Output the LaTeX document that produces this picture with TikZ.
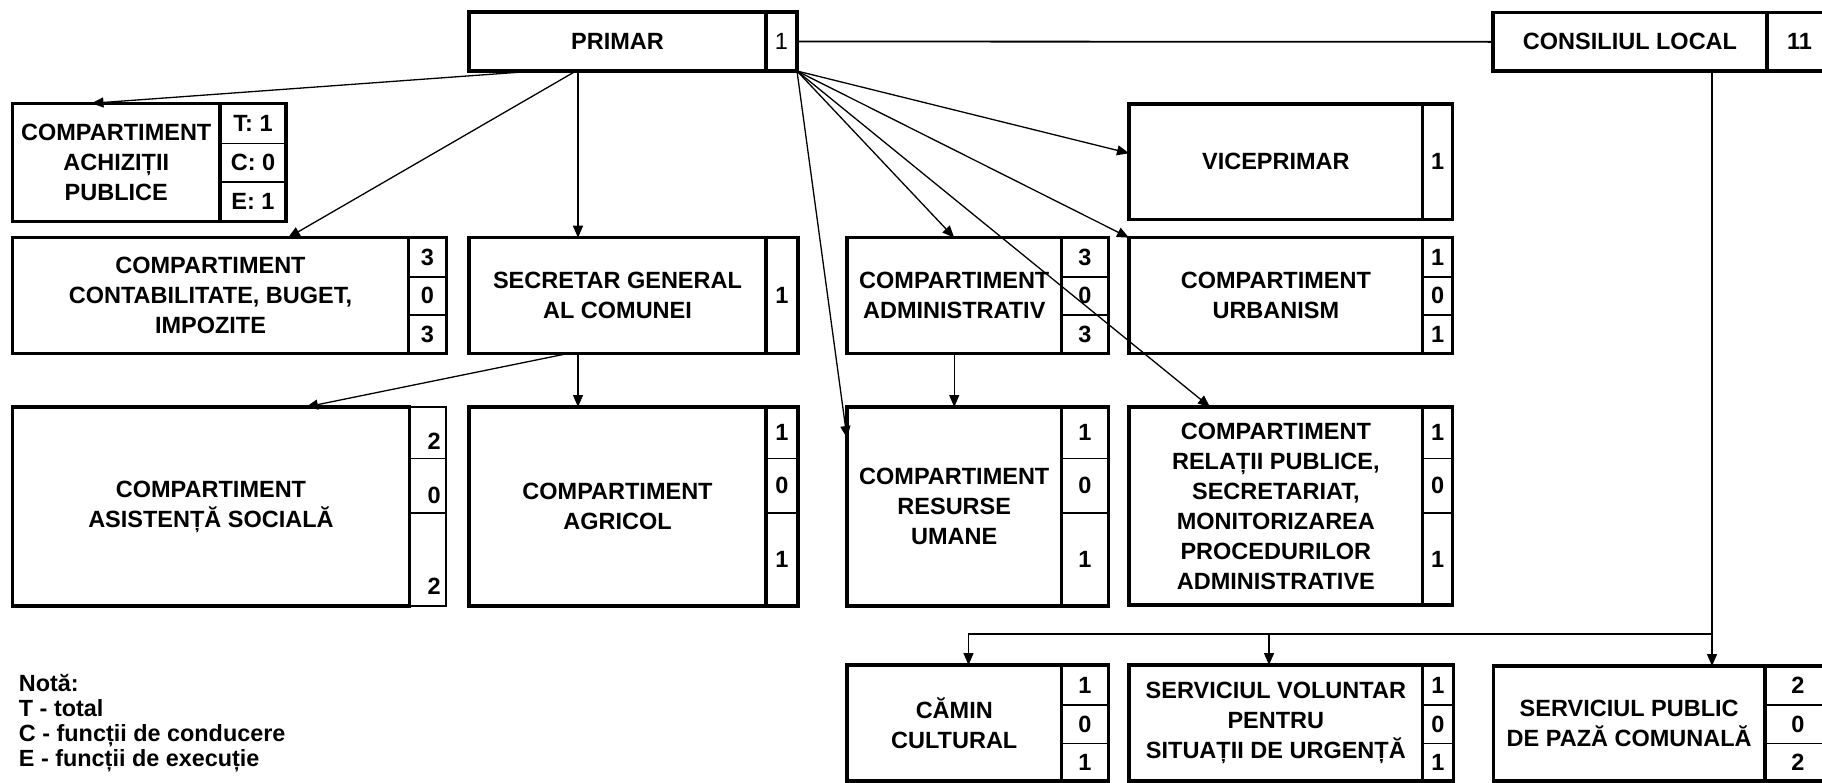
\documentclass[tikz,border=0pt]{standalone}
\usepackage{fontspec}
\setmainfont{Liberation Sans}
\usetikzlibrary{arrows.meta}

\newcommand\boxfont{\fontsize{23.5}{30}\selectfont\bfseries}
\newcommand\plainfont{\fontsize{23.5}{30}\selectfont}
\newcommand\notefont{\fontsize{23.4}{25}\selectfont\bfseries}

\begin{document}
\begin{tikzpicture}[x=1pt, y=-1pt,
    box/.style={draw, line width=3.3pt, inner sep=0pt, outer sep=0pt, align=center, font=\boxfont},
    numcol/.style={draw, line width=3.3pt, inner sep=0pt, outer sep=0pt, font=\boxfont},
    num/.style={inner sep=0pt, font=\boxfont},
    divider/.style={line width=1.6pt},
    link/.style={line width=1.3pt, -{Triangle[length=12pt,width=10pt]}}]

        \useasboundingbox (0,0) rectangle (1822,782);

        % top row
        \node[box, minimum width=297pt, minimum height=59pt] (primar) at (617.5,41.5) {PRIMAR};
        \node[numcol, font=\plainfont, minimum width=31pt, minimum height=59pt] (primar-n) at (781.5,41.5) {1};
        \node[box, minimum width=274pt, minimum height=58.3pt] (consiliul) at (1630,41.85) {CONSILIUL LOCAL};
        \node[numcol, minimum width=65pt, minimum height=58.3pt] (consiliul-n) at (1799.5,41.85) {11};

        % achizitii
        \node[box, minimum width=207.5pt, minimum height=118.4pt] (achiz) at (116.25,162.5) {COMPARTIMENT\\ACHIZIȚII\\PUBLICE};
        \node[numcol, minimum width=66pt, minimum height=118.4pt] (achiz-n) at (253,162.5) {};
        \draw[divider] ([yshift=-40pt]achiz-n.north west) -- ([yshift=-40pt]achiz-n.north east);
        \draw[divider] ([yshift=-78.4pt]achiz-n.north west) -- ([yshift=-78.4pt]achiz-n.north east);
        \node[num] (achiz-t) at (253,123.3) {T: 1};
        \node[num] (achiz-c) at (253,162.5) {C: 0};
        \node[num] (achiz-e) at (253,201.7) {E: 1};

        % viceprimar
        \node[box, minimum width=293.7pt, minimum height=115.5pt] (vice) at (1275.85,161.75) {VICEPRIMAR};
        \node[numcol, minimum width=30pt, minimum height=115.5pt] (vice-n) at (1437.7,161.75) {1};

        % second row
        \node[box, minimum width=396pt, minimum height=115.6pt] (contab) at (210.5,295.5) {COMPARTIMENT\\CONTABILITATE, BUGET,\\IMPOZITE};
        \node[numcol, minimum width=37.9pt, minimum height=115.6pt] (contab-n) at (427.45,295.5) {};
        \draw[divider] ([yshift=-39pt]contab-n.north west) -- ([yshift=-39pt]contab-n.north east);
        \draw[divider] ([yshift=-77.3pt]contab-n.north west) -- ([yshift=-77.3pt]contab-n.north east);
        \node[num] (contab-t) at (427.45,257.2) {3};
        \node[num] (contab-c) at (427.45,295.85) {0};
        \node[num] (contab-e) at (427.45,334.15) {3};

        \node[box, minimum width=297pt, minimum height=115.6pt] (secretar) at (617.5,295.5) {SECRETAR GENERAL\\AL COMUNEI};
        \node[numcol, minimum width=32pt, minimum height=115.6pt] (secretar-n) at (782,295.5) {1};

        \node[box, minimum width=214.5pt, minimum height=115.6pt] (admin) at (954.25,295.5) {COMPARTIMENT\\ADMINISTRATIV};
        \node[numcol, minimum width=46.7pt, minimum height=115.6pt] (admin-n) at (1084.85,295.5) {};
        \draw[divider] ([yshift=-39pt]admin-n.north west) -- ([yshift=-39pt]admin-n.north east);
        \draw[divider] ([yshift=-77.3pt]admin-n.north west) -- ([yshift=-77.3pt]admin-n.north east);
        \node[num] (admin-t) at (1084.85,257.2) {3};
        \node[num] (admin-c) at (1084.85,295.85) {0};
        \node[num] (admin-e) at (1084.85,334.15) {3};

        \node[box, minimum width=293.7pt, minimum height=115.6pt] (urban) at (1275.85,295.5) {COMPARTIMENT\\URBANISM};
        \node[numcol, minimum width=30pt, minimum height=115.6pt] (urban-n) at (1437.7,295.5) {};
        \draw[divider] ([yshift=-39pt]urban-n.north west) -- ([yshift=-39pt]urban-n.north east);
        \draw[divider] ([yshift=-77.3pt]urban-n.north west) -- ([yshift=-77.3pt]urban-n.north east);
        \node[num] (urban-t) at (1437.7,257.2) {1};
        \node[num] (urban-c) at (1437.7,295.85) {0};
        \node[num] (urban-e) at (1437.7,334.15) {1};

        % third row
        \node[box, minimum width=397pt, minimum height=199pt] (asist) at (211,506.5) {COMPARTIMENT\\ASISTENȚĂ SOCIALĂ};
        \node[numcol, line width=1.6pt, minimum width=36.5pt, minimum height=199pt] (asist-n) at (427.75,506.5) {};
        \draw[divider] ([yshift=-51.3pt]asist-n.north west) -- ([yshift=-51.3pt]asist-n.north east);
        \draw[divider] ([yshift=-105.7pt]asist-n.north west) -- ([yshift=-105.7pt]asist-n.north east);
        \node[num, anchor=south east] (asist-t) at (441,450) {2};
        \node[num, anchor=south east] (asist-c) at (441,504) {0};
        \node[num, anchor=south east] (asist-e) at (441,595) {2};

        \node[box, minimum width=297pt, minimum height=199pt] (agric) at (617.5,506.5) {COMPARTIMENT\\AGRICOL};
        \node[numcol, minimum width=32pt, minimum height=199pt] (agric-n) at (782,506.5) {};
        \draw[divider] ([yshift=-51.3pt]agric-n.north west) -- ([yshift=-51.3pt]agric-n.north east);
        \draw[divider] ([yshift=-105.7pt]agric-n.north west) -- ([yshift=-105.7pt]agric-n.north east);
        \node[num] (agric-t) at (782,432.65) {1};
        \node[num] (agric-c) at (782,485.5) {0};
        \node[num] (agric-e) at (782,559.35) {1};

        \node[box, minimum width=214.5pt, minimum height=199pt] (resurse) at (954.25,506.5) {COMPARTIMENT\\RESURSE\\UMANE};
        \node[numcol, minimum width=46.7pt, minimum height=199pt] (resurse-n) at (1084.85,506.5) {};
        \draw[divider] ([yshift=-51.3pt]resurse-n.north west) -- ([yshift=-51.3pt]resurse-n.north east);
        \draw[divider] ([yshift=-105.7pt]resurse-n.north west) -- ([yshift=-105.7pt]resurse-n.north east);
        \node[num] (resurse-t) at (1084.85,432.65) {1};
        \node[num] (resurse-c) at (1084.85,485.5) {0};
        \node[num] (resurse-e) at (1084.85,559.35) {1};

        \node[box, minimum width=293.7pt, minimum height=198pt] (relatii) at (1275.85,506) {COMPARTIMENT\\RELAȚII PUBLICE,\\SECRETARIAT,\\MONITORIZAREA\\PROCEDURILOR\\ADMINISTRATIVE};
        \node[numcol, minimum width=30pt, minimum height=198pt] (relatii-n) at (1437.7,506) {};
        \draw[divider] ([yshift=-51.3pt]relatii-n.north west) -- ([yshift=-51.3pt]relatii-n.north east);
        \draw[divider] ([yshift=-105.7pt]relatii-n.north west) -- ([yshift=-105.7pt]relatii-n.north east);
        \node[num] (relatii-t) at (1437.7,432.65) {1};
        \node[num] (relatii-c) at (1437.7,485.5) {0};
        \node[num] (relatii-e) at (1437.7,559.35) {1};

        % bottom row
        \node[box, minimum width=214.5pt, minimum height=116pt] (camin) at (954.25,723) {CĂMIN\\CULTURAL};
        \node[numcol, minimum width=46.7pt, minimum height=116pt] (camin-n) at (1084.85,723) {};
        \draw[divider] ([yshift=-40pt]camin-n.north west) -- ([yshift=-40pt]camin-n.north east);
        \draw[divider] ([yshift=-78.3pt]camin-n.north west) -- ([yshift=-78.3pt]camin-n.north east);
        \node[num] (camin-t) at (1084.85,685) {1};
        \node[num] (camin-c) at (1084.85,724.15) {0};
        \node[num] (camin-e) at (1084.85,762.15) {1};

        \node[box, minimum width=293.7pt, minimum height=116pt] (volunt) at (1275.85,723) {SERVICIUL VOLUNTAR\\PENTRU\\SITUAȚII DE URGENȚĂ};
        \node[numcol, minimum width=30.5pt, minimum height=116pt] (volunt-n) at (1438,723) {};
        \draw[divider] ([yshift=-40pt]volunt-n.north west) -- ([yshift=-40pt]volunt-n.north east);
        \draw[divider] ([yshift=-78.3pt]volunt-n.north west) -- ([yshift=-78.3pt]volunt-n.north east);
        \node[num] (volunt-t) at (1438,685) {1};
        \node[num] (volunt-c) at (1438,724.15) {0};
        \node[num] (volunt-e) at (1438,762.15) {1};

        \node[box, minimum width=271.7pt, minimum height=115pt] (public) at (1629.15,723.5) {SERVICIUL PUBLIC\\DE PAZĂ COMUNALĂ};
        \node[numcol, minimum width=67pt, minimum height=115pt] (public-n) at (1798.5,723.5) {};
        \draw[divider] ([yshift=-39pt]public-n.north west) -- ([yshift=-39pt]public-n.north east);
        \draw[divider] ([yshift=-77.3pt]public-n.north west) -- ([yshift=-77.3pt]public-n.north east);
        \node[num] (public-t) at (1798,685.5) {2};
        \node[num] (public-c) at (1798,724.15) {0};
        \node[num] (public-e) at (1798,762) {2};

        % note
        \node[anchor=base west, align=left, inner sep=0pt, font=\notefont] (note) at (18.75,766.7) {Notă:\\T - total\\C - funcții de conducere\\E - funcții de execuție};

        % links from primar
        \draw[line width=1.8pt] (primar-n.east) -- (consiliul.west);
        \draw[link] ([xshift=67pt]primar.south west) -- ([xshift=79pt]achiz.north west);
        \draw[link] ([xshift=107pt]primar.south west) -- ([xshift=275.5pt]contab.north west);
        \draw[link] ([xshift=109pt]primar.south west) -- ([xshift=109pt]secretar.north west);
        \draw[link] (primar-n.south east) -- ([yshift=8.5pt]vice.west);
        \draw[link] (primar-n.south east) -- (admin.north);
        \draw[link] (primar-n.south east) -- (urban.north west);
        \draw[link] (primar-n.south east) -- ([yshift=-31pt]resurse.north west);
        \draw[link] (primar-n.south east) -- ([xshift=81pt]relatii.north west);

        % links below
        \draw[link] ([xshift=100pt]secretar.south west) -- ([xshift=293.5pt]asist.north west);
        \draw[link] ([xshift=109pt]secretar.south west) -- ([xshift=109pt]agric.north west);
        \draw[link] (admin.south) -- (resurse.north);

        % consiliul local
        \draw[link] ([xshift=219pt]consiliul.south west) -- ([xshift=218.7pt]public.north west);
        \coordinate (branch) at (1712,634);
        \coordinate (camin-in) at ([xshift=121.5pt]camin.north west);
        \coordinate (volunt-in) at ([xshift=140pt]volunt.north west);
        \draw[link] (branch) -| (camin-in);
        \draw[link] (volunt-in |- branch) -- (volunt-in);
\end{tikzpicture}
\end{document}
